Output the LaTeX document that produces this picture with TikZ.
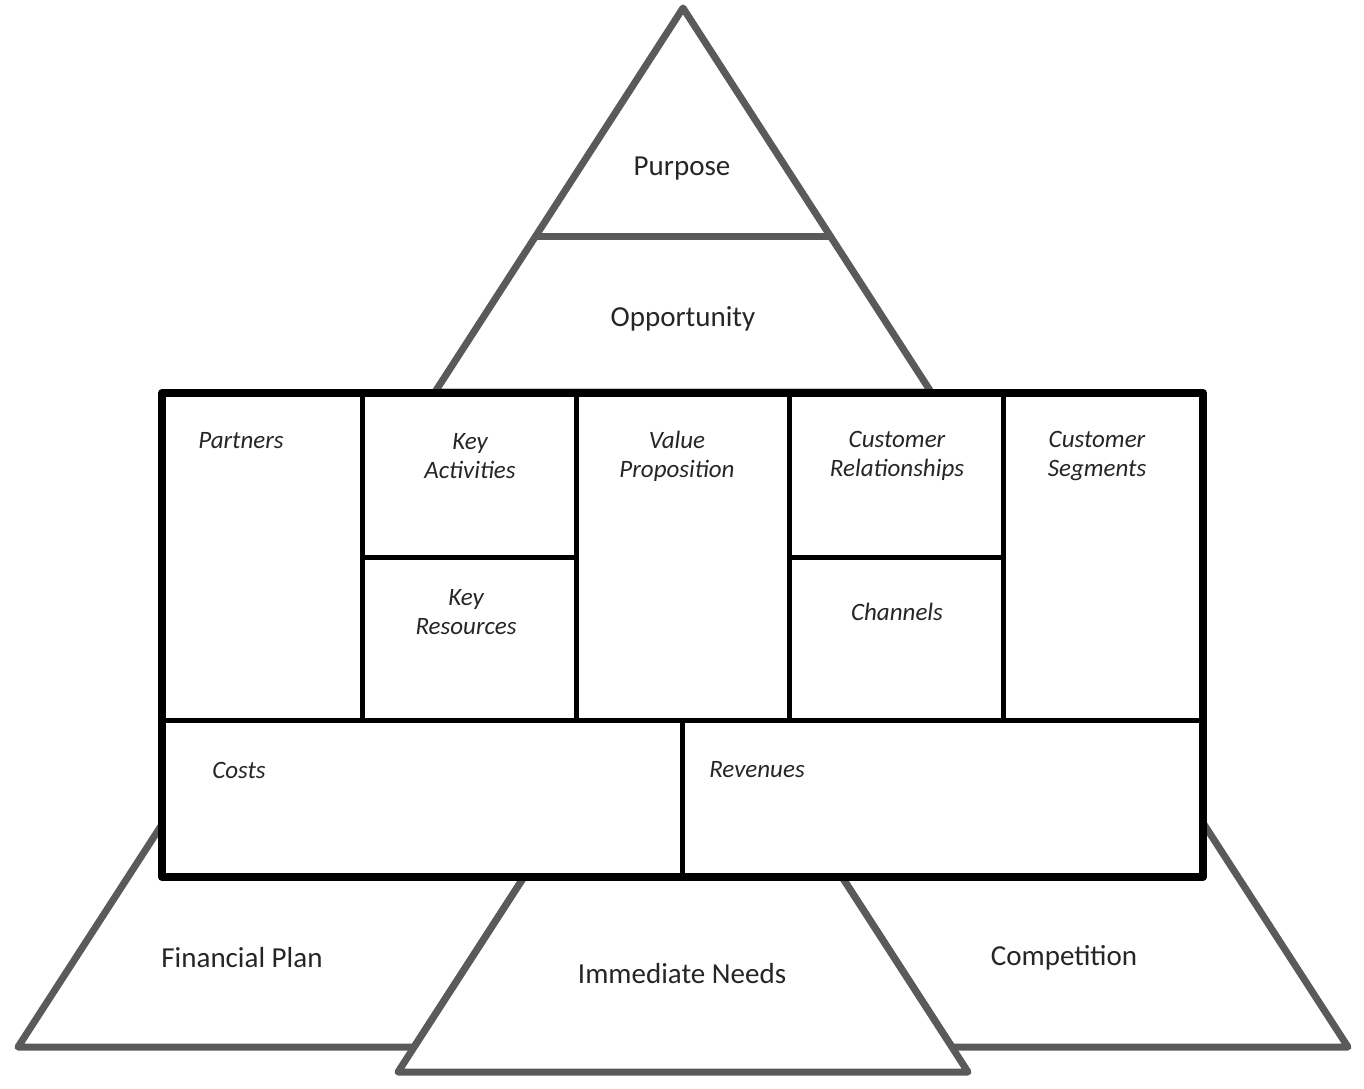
\documentclass[tikz,border=0pt]{standalone}
\usepackage{fontspec}
\setmainfont{Carlito}
\definecolor{tri}{HTML}{5A5A5A}
\tikzset{
  triangle/.style={draw=tri, line width=7pt, fill=white, line join=round},
  outerbox/.style={draw=black, line width=8pt, fill=white, line join=round},
  innerline/.style={draw=black, line width=5pt},
  bigtext/.style={font=\fontsize{29}{34}\selectfont, inner sep=0pt, text=black!85},
  celltext/.style={font=\fontsize{25}{29}\selectfont\itshape, inner sep=0pt, align=center, text=black!85},
}
\begin{document}
\begin{tikzpicture}[x=1pt,y=-1pt]
\useasboundingbox (0,0) rectangle (1364,1088);
% top triangle
\draw[triangle] (683,8) -- (435,392) -- (931,392) -- cycle;
\draw[draw=tri, line width=7pt] (536,236) -- (830,236);
% bottom shapes (left and right slanted, middle on top)
\draw[triangle] (18,1047) -- (181,795) -- (577,795) -- (414,1047) -- cycle;
\draw[triangle] (1348,1047) -- (1185,795) -- (789,795) -- (952,1047) -- cycle;
\draw[triangle] (683,631) -- (398,1072) -- (968,1072) -- cycle;
% canvas box
\draw[outerbox] (162,393) rectangle (1203,877);
\draw[innerline] (362,393) -- (362,720);
\draw[innerline] (576,393) -- (576,720);
\draw[innerline] (789,393) -- (789,720);
\draw[innerline] (1003,393) -- (1003,720);
\draw[innerline] (162,720) -- (1203,720);
\draw[innerline] (362,557) -- (576,557);
\draw[innerline] (789,557) -- (1003,557);
\draw[innerline] (682,720) -- (682,877);
% labels
\node[bigtext] (purpose) at (682,169) {Purpose};
\node[bigtext] (opportunity) at (683,319) {Opportunity};
\node[bigtext] (financial) at (242,958) {Financial Plan};
\node[bigtext] (needs) at (682,974) {Immediate Needs};
\node[bigtext] (competition) at (1064,958) {Competition};
\node[celltext] (partners) at (241,441) {Partners};
\node[celltext] (keyact) at (470,456) {Key\\Activities};
\node[celltext] (keyres) at (466,612) {Key\\Resources};
\node[celltext] (value) at (677,456) {Value\\Proposition};
\node[celltext] (custrel) at (897,456) {Customer\\Relationships};
\node[celltext] (custseg) at (1097,456) {Customer\\Segments};
\node[celltext] (channels) at (897,612) {Channels};
\node[celltext] (costs) at (239,770) {Costs};
\node[celltext] (revenues) at (757,770) {Revenues};
\end{tikzpicture}
\end{document}
